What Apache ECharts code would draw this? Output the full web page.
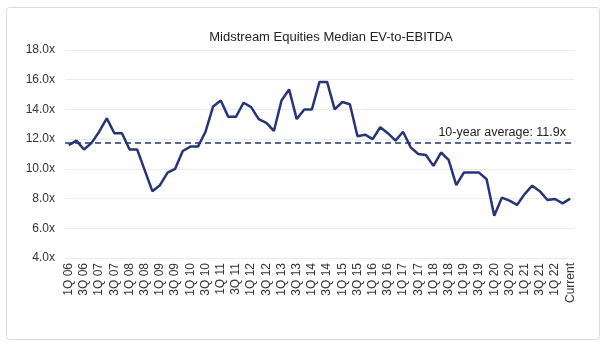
<!DOCTYPE html>
<html>
<head>
<meta charset="utf-8">
<script src="https://cdn.jsdelivr.net/npm/echarts@6/dist/echarts.min.js"></script>
<style>
html,body{margin:0;padding:0;background:#fff;}
#chart{width:602px;height:342px;}
</style>
</head>
<body>
<div id="chart"></div>
<script>
var categories = [
'1Q 06','2Q 06','3Q 06','4Q 06','1Q 07','2Q 07','3Q 07','4Q 07',
'1Q 08','2Q 08','3Q 08','4Q 08','1Q 09','2Q 09','3Q 09','4Q 09',
'1Q 10','2Q 10','3Q 10','4Q 10','1Q 11','2Q 11','3Q 11','4Q 11',
'1Q 12','2Q 12','3Q 12','4Q 12','1Q 13','2Q 13','3Q 13','4Q 13',
'1Q 14','2Q 14','3Q 14','4Q 14','1Q 15','2Q 15','3Q 15','4Q 15',
'1Q 16','2Q 16','3Q 16','4Q 16','1Q 17','2Q 17','3Q 17','4Q 17',
'1Q 18','2Q 18','3Q 18','4Q 18','1Q 19','2Q 19','3Q 19','4Q 19',
'1Q 20','2Q 20','3Q 20','4Q 20','1Q 21','2Q 21','3Q 21','4Q 21',
'1Q 22','2Q 22','Current'
];
var evEbitda = [
11.6, 11.9, 11.3, 11.75, 12.5, 13.4, 12.4, 12.4,
11.3, 11.3, 9.9, 8.5, 8.9, 9.75, 10.0, 11.2,
11.5, 11.5, 12.5, 14.2, 14.6, 13.5, 13.5, 14.45,
14.15, 13.35, 13.1, 12.55, 14.6, 15.35, 13.35, 14.0,
14.0, 15.85, 15.85, 14.0, 14.5, 14.35, 12.2, 12.3,
12.0, 12.8, 12.4, 11.9, 12.5, 11.45, 11.0, 10.93,
10.2, 11.1, 10.6, 8.9, 9.75, 9.75, 9.75, 9.3,
6.85, 8.06, 7.86, 7.57, 8.3, 8.87, 8.5, 7.9,
7.97, 7.68, 8.0
];
var avgLevel = 11.75;
var avgLabel = '10-year average: 11.9x';
var chartTitle = 'Midstream Equities Median EV-to-EBITDA';

var chart = echarts.init(document.getElementById('chart'), null, {renderer:'canvas'});
var lineColor = '#263478';
chart.setOption({
  animation: false,
  backgroundColor: '#fff',
  title: {
    text: chartTitle,
    left: 326, top: 26, textAlign: 'center',
    textStyle: {fontFamily: 'Liberation Sans, Arial, sans-serif', fontSize: 13, fontWeight: 'normal', color: '#222'}
  },
  graphic: [{
    type: 'rect', left: 4, top: 5, silent: true,
    shape: {width: 593, height: 332, r: 3},
    style: {fill: 'none', stroke: '#dcdcdc', lineWidth: 1}
  }],
  grid: {left: 65, right: 28, top: 50, bottom: 84, containLabel: false},
  xAxis: {
    type: 'category',
    data: categories,
    boundaryGap: true,
    axisLine: {show: false},
    axisTick: {show: false},
    axisLabel: {
      interval: 1, rotate: 90, margin: 5,
      fontFamily: 'Liberation Sans, Arial, sans-serif', fontSize: 12, color: '#333'
    },
    splitLine: {show: false}
  },
  yAxis: {
    type: 'value',
    min: 4, max: 18, interval: 2,
    axisLine: {show: false},
    axisTick: {show: false},
    axisLabel: {
      margin: 10,
      formatter: function(v){ return v.toFixed(1) + 'x'; },
      fontFamily: 'Liberation Sans, Arial, sans-serif', fontSize: 12, color: '#333'
    },
    splitLine: {lineStyle: {color: '#ebebeb', width: 1}}
  },
  series: [{
    type: 'line',
    data: evEbitda,
    symbol: 'none',
    smooth: false,
    lineStyle: {color: lineColor, width: 2.5},
    markLine: {
      silent: true,
      symbol: 'none',
      lineStyle: {color: lineColor, type: [6, 4], width: 1.5},
      label: {
        show: true,
        position: 'insideEndTop',
        distance: [8, 4],
        formatter: avgLabel,
        fontFamily: 'Liberation Sans, Arial, sans-serif', fontSize: 12.5, color: '#222'
      },
      data: [{yAxis: avgLevel}]
    }
  }]
});
</script>
</body>
</html>
